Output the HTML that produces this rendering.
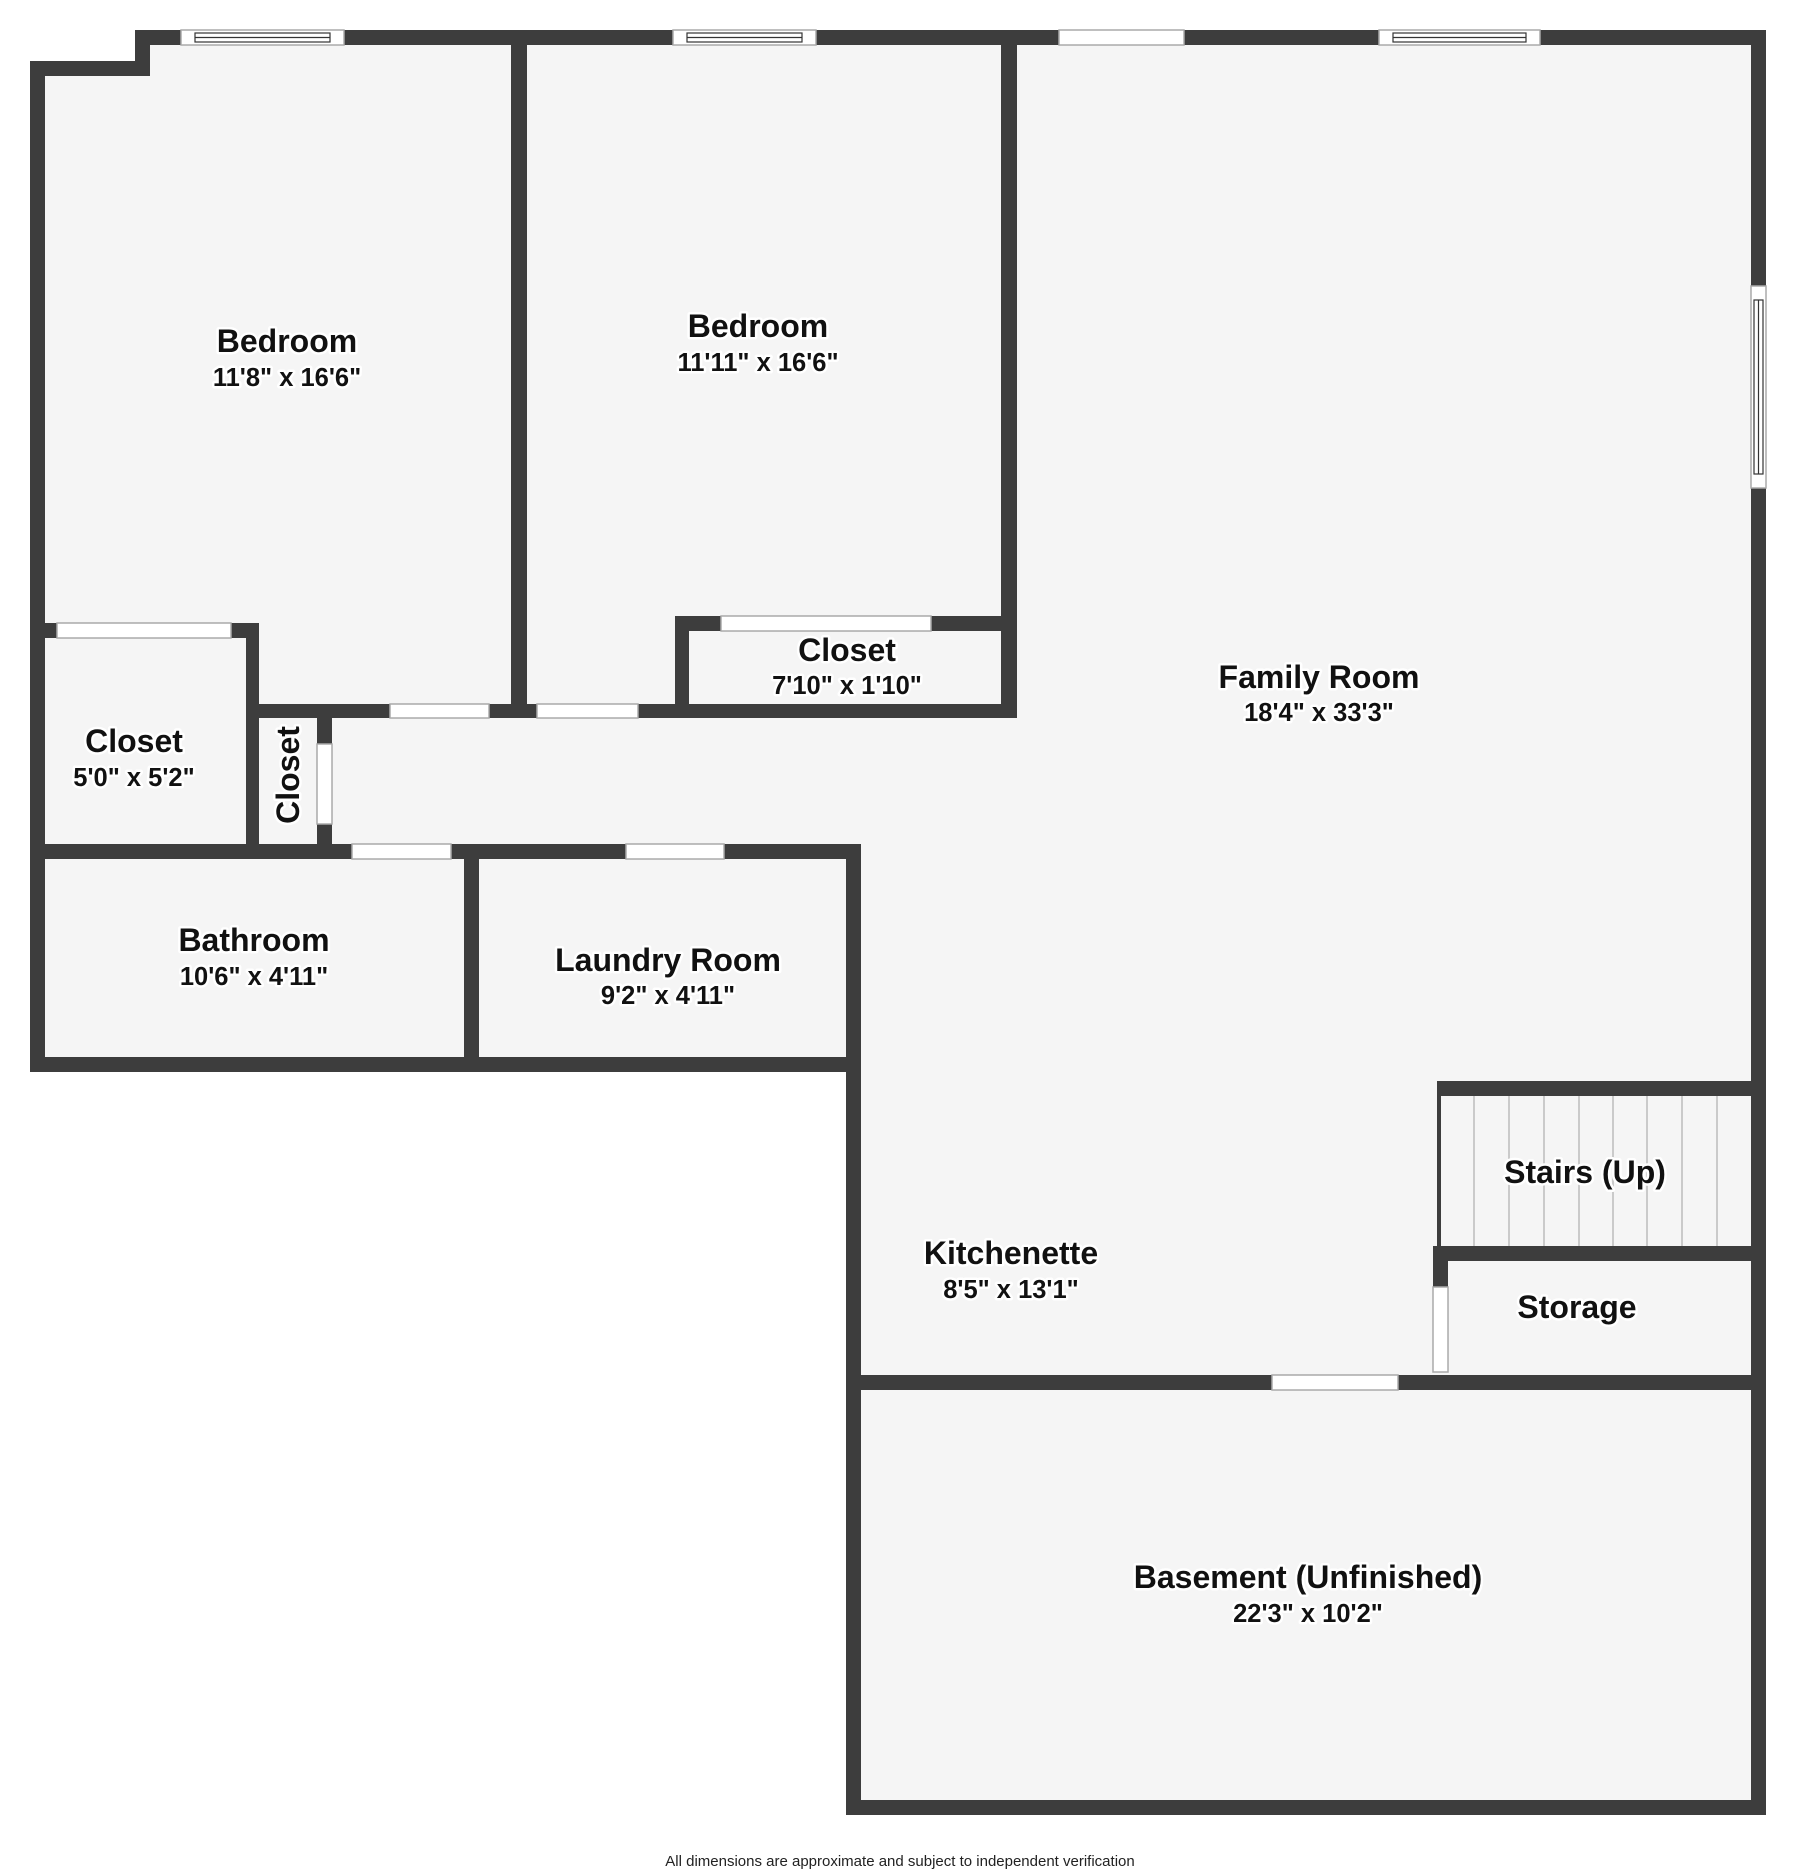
<!DOCTYPE html>
<html><head><meta charset="utf-8"><style>
html,body{margin:0;padding:0;background:#fff;}
svg{display:block;}
text{font-family:"Liberation Sans",sans-serif;font-weight:bold;fill:#111;text-anchor:middle;paint-order:stroke;stroke:#fff;stroke-width:5px;stroke-linejoin:round;}
.t{font-size:32px;}
.d{font-size:25.5px;}
</style></head><body>
<svg width="1796" height="1873" viewBox="0 0 1796 1873" xmlns="http://www.w3.org/2000/svg">
<polygon points="30,61 135,61 135,30 1766,30 1766,1815 846,1815 846,1072 30,1072" fill="#f5f5f5"/>
<g fill="#3d3d3d">
<rect x="135" y="30" width="1631" height="15"/>
<rect x="135" y="30" width="15" height="46"/>
<rect x="30" y="61" width="120" height="15"/>
<rect x="30" y="61" width="15" height="1011"/>
<rect x="1751" y="30" width="15" height="1785"/>
<rect x="846" y="1800" width="920" height="15"/>
<rect x="846" y="844" width="15" height="971"/>
<rect x="30" y="1057" width="831" height="15"/>
<rect x="30" y="844" width="831" height="15"/>
<rect x="464" y="844" width="15" height="228"/>
<rect x="30" y="623" width="229" height="15"/>
<rect x="246" y="623" width="13" height="235"/>
<rect x="246" y="704" width="771" height="14"/>
<rect x="511" y="30" width="16" height="688"/>
<rect x="1001" y="30" width="16" height="688"/>
<rect x="675" y="616" width="342" height="15"/>
<rect x="675" y="616" width="14" height="102"/>
<rect x="317" y="704" width="15" height="154"/>
<rect x="1437" y="1081" width="329" height="15"/>
<rect x="1433" y="1246" width="333" height="15"/>
<rect x="1433" y="1246" width="15" height="126"/>
<rect x="846" y="1375" width="920" height="15"/>
<rect x="1437" y="1081" width="4" height="165"/>
</g>
<g stroke="#bbb" stroke-width="1.5">
<line x1="1474" y1="1096" x2="1474" y2="1246"/><line x1="1509" y1="1096" x2="1509" y2="1246"/>
<line x1="1544" y1="1096" x2="1544" y2="1246"/><line x1="1579" y1="1096" x2="1579" y2="1246"/>
<line x1="1613" y1="1096" x2="1613" y2="1246"/><line x1="1647" y1="1096" x2="1647" y2="1246"/>
<line x1="1682" y1="1096" x2="1682" y2="1246"/><line x1="1717" y1="1096" x2="1717" y2="1246"/>
</g>
<g fill="#fff" stroke="#aaa" stroke-width="1.5">
<rect x="1059" y="30" width="125" height="15"/>
<rect x="57" y="623" width="174" height="15"/>
<rect x="390" y="704" width="99" height="14"/>
<rect x="537" y="704" width="101" height="14"/>
<rect x="721" y="616" width="210" height="15"/>
<rect x="317" y="744" width="15" height="80"/>
<rect x="352" y="844" width="99" height="15"/>
<rect x="626" y="844" width="98" height="15"/>
<rect x="1433" y="1287" width="15" height="85"/>
<rect x="1272" y="1375" width="126" height="15"/>
<rect x="181" y="30" width="163" height="15"/>
<rect x="673" y="30" width="143" height="15"/>
<rect x="1379" y="30" width="161" height="15"/>
<rect x="1751" y="286" width="15" height="202"/>
</g>
<g stroke="#333" stroke-width="1.2" fill="none">
<rect x="195" y="33" width="135" height="9"/><line x1="195" y1="37.5" x2="330" y2="37.5"/>
<rect x="687" y="33" width="115" height="9"/><line x1="687" y1="37.5" x2="802" y2="37.5"/>
<rect x="1393" y="33" width="133" height="9"/><line x1="1393" y1="37.5" x2="1526" y2="37.5"/>
<rect x="1754" y="300" width="9" height="174"/><line x1="1758.5" y1="300" x2="1758.5" y2="474"/>
</g>
<text class="t" x="287" y="352">Bedroom</text><text class="d" x="287" y="386">11'8" x 16'6"</text>
<text class="t" x="758" y="337">Bedroom</text><text class="d" x="758" y="371">11'11" x 16'6"</text>
<text class="t" x="847" y="661">Closet</text><text class="d" x="847" y="694">7'10" x 1'10"</text>
<text class="t" x="1319" y="688">Family Room</text><text class="d" x="1319" y="721">18'4" x 33'3"</text>
<text class="t" x="134" y="752">Closet</text><text class="d" x="134" y="786">5'0" x 5'2"</text>
<text class="t" transform="translate(299,775) rotate(-90)" x="0" y="0">Closet</text>
<text class="t" x="254" y="951">Bathroom</text><text class="d" x="254" y="985">10'6" x 4'11"</text>
<text class="t" x="668" y="971">Laundry Room</text><text class="d" x="668" y="1004">9'2" x 4'11"</text>
<text class="t" x="1585" y="1183">Stairs (Up)</text>
<text class="t" x="1577" y="1318">Storage</text>
<text class="t" x="1011" y="1264">Kitchenette</text><text class="d" x="1011" y="1298">8'5" x 13'1"</text>
<text class="t" x="1308" y="1588">Basement (Unfinished)</text><text class="d" x="1308" y="1622">22'3" x 10'2"</text>
<text x="900" y="1866" style="font-size:15px;font-weight:normal;stroke:none;fill:#222">All dimensions are approximate and subject to independent verification</text>
</svg>
</body></html>
